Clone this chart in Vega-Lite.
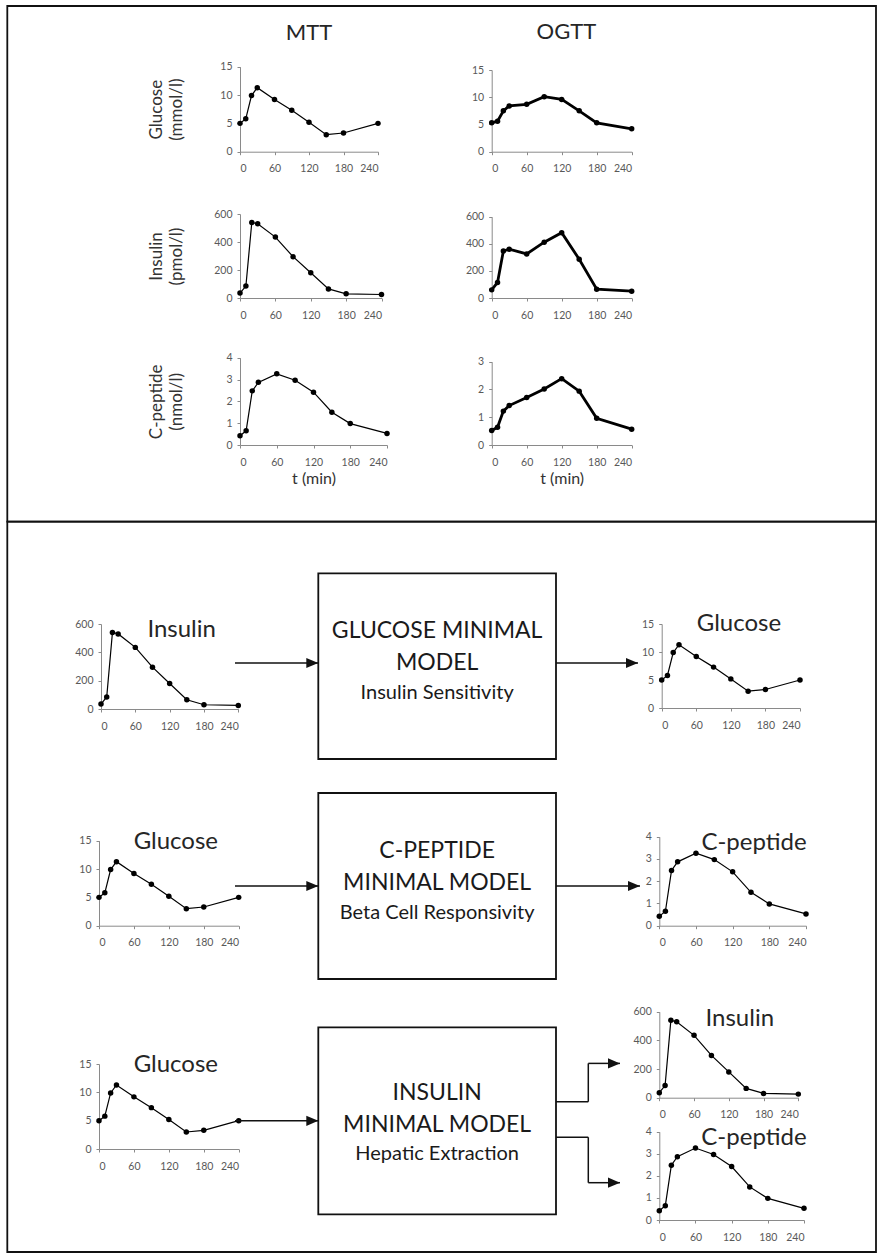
{
"$schema": "https://vega.github.io/schema/vega-lite/v6.json",
"width": 881, "height": 1255, "padding": 0, "autosize": {"type": "none"},
"background": "white",
"config": {
  "font": "Lato",
  "view": {"stroke": null},
  "axis": {"grid": false, "labelOverlap": false, "labelBound": false, "domainColor": "#8a8a8a", "tickColor": "#8a8a8a", "tickSize": 3, "labelFont": "Lato", "labelFontSize": 10.5, "labelColor": "#595959", "titleFont": "Lato", "titleFontWeight": "normal", "titleColor": "#333333", "titleFontSize": 17, "titleLineHeight": 20},
  "axisX": {"labelPadding": 9},
  "axisY": {"labelPadding": 5},
  "text": {"font": "Lato"}
},
"datasets": {
  "mtt_glu": [{"t":0,"v":5.0},{"t":10,"v":5.8},{"t":20,"v":9.9},{"t":30,"v":11.3},{"t":60,"v":9.2},{"t":90,"v":7.3},{"t":120,"v":5.2},{"t":150,"v":3.0},{"t":180,"v":3.3},{"t":240,"v":5.0}],
  "ogtt_glu": [{"t":0,"v":5.3},{"t":10,"v":5.6},{"t":20,"v":7.5},{"t":30,"v":8.4},{"t":60,"v":8.7},{"t":90,"v":10.1},{"t":120,"v":9.6},{"t":150,"v":7.5},{"t":180,"v":5.3},{"t":240,"v":4.2}],
  "mtt_ins": [{"t":0,"v":35},{"t":10,"v":85},{"t":20,"v":540},{"t":30,"v":530},{"t":60,"v":435},{"t":90,"v":295},{"t":120,"v":180},{"t":150,"v":65},{"t":180,"v":30},{"t":240,"v":25}],
  "ogtt_ins": [{"t":0,"v":60},{"t":10,"v":115},{"t":20,"v":347},{"t":30,"v":360},{"t":60,"v":325},{"t":90,"v":412},{"t":120,"v":482},{"t":150,"v":286},{"t":180,"v":65},{"t":240,"v":50}],
  "mtt_cp": [{"t":0,"v":0.42},{"t":10,"v":0.65},{"t":20,"v":2.48},{"t":30,"v":2.87},{"t":60,"v":3.26},{"t":90,"v":2.97},{"t":120,"v":2.42},{"t":150,"v":1.5},{"t":180,"v":0.98},{"t":240,"v":0.53}],
  "ogtt_cp": [{"t":0,"v":0.52},{"t":10,"v":0.64},{"t":20,"v":1.22},{"t":30,"v":1.42},{"t":60,"v":1.71},{"t":90,"v":2.02},{"t":120,"v":2.39},{"t":150,"v":1.94},{"t":180,"v":0.96},{"t":240,"v":0.57}]
},
"resolve": {"scale": {"x": "independent", "y": "independent"}, "axis": {"x": "independent", "y": "independent"}},
"layer": [
  {"data": {"values": [{}]},
   "layer": [
     {"mark": {"type": "rect", "filled": false, "color": "#111111", "strokeWidth": 1.8},
      "encoding": {"x": {"datum": 0, "type": "quantitative", "scale": {"domain": [0,1], "range": [7.3,876], "nice": false, "zero": false}, "axis": null}, "x2": {"datum": 1},
                   "y": {"datum": 0, "type": "quantitative", "scale": {"domain": [0,1,2], "range": [6,521.7,1252], "nice": false, "zero": false}, "axis": null}, "y2": {"datum": 1}}},
     {"mark": {"type": "rect", "filled": false, "color": "#111111", "strokeWidth": 1.8},
      "encoding": {"x": {"datum": 0, "type": "quantitative", "scale": {"domain": [0,1], "range": [7.3,876], "nice": false, "zero": false}, "axis": null}, "x2": {"datum": 1},
                   "y": {"datum": 1, "type": "quantitative", "scale": {"domain": [0,1,2], "range": [6,521.7,1252], "nice": false, "zero": false}, "axis": null}, "y2": {"datum": 2}}}
   ]},

  {"data": {"name": "mtt_glu"},
   "encoding": {
     "x": {"field": "t", "type": "quantitative", "scale": {"domain": [0,240], "range": [240,378], "nice": false}, "axis": {"orient": "bottom", "offset": -1103.3, "values": [0,60,120,180,240], "title": null, "labelOverlap": false}},
     "y": {"field": "v", "type": "quantitative", "scale": {"domain": [0,15], "range": [151.7,66.7], "nice": false}, "axis": {"orient": "left", "offset": -240, "values": [0,5,10,15], "title": ["Glucose","(mmol/l)"], "minExtent": 30, "maxExtent": 30, "titlePadding": 24.7}}},
   "layer": [
     {"mark": {"type": "line", "color": "black", "strokeWidth": 1.2}},
     {"mark": {"type": "point", "filled": true, "color": "black", "opacity": 1, "size": 30}}
   ]},
  {"data": {"values": [{"label": "MTT"}]}, "mark": {"type": "text", "fontSize": 22, "color": "#262626"},
   "encoding": {"text": {"field": "label"},
     "x": {"datum": 120, "type": "quantitative", "scale": {"domain": [0,240], "range": [240,378], "nice": false}, "axis": null},
     "y": {"datum": 20.95, "type": "quantitative", "scale": {"domain": [0,15], "range": [151.7,66.7], "nice": false}, "axis": null}}},

  {"data": {"name": "ogtt_glu"},
   "encoding": {
     "x": {"field": "t", "type": "quantitative", "scale": {"domain": [0,240], "range": [491.7,631.7], "nice": false}, "axis": {"orient": "bottom", "offset": -1103.3, "values": [0,60,120,180,240], "title": null, "labelOverlap": false}},
     "y": {"field": "v", "type": "quantitative", "scale": {"domain": [0,15], "range": [151.7,70], "nice": false}, "axis": {"orient": "left", "offset": -491.7, "values": [0,5,10,15], "title": null}}},
   "layer": [
     {"mark": {"type": "line", "color": "black", "strokeWidth": 2.8}},
     {"mark": {"type": "point", "filled": true, "color": "black", "opacity": 1, "size": 30}}
   ]},
  {"data": {"values": [{"label": "OGTT"}]}, "mark": {"type": "text", "fontSize": 22, "color": "#262626"},
   "encoding": {"text": {"field": "label"},
     "x": {"datum": 128, "type": "quantitative", "scale": {"domain": [0,240], "range": [491.7,631.7], "nice": false}, "axis": null},
     "y": {"datum": 22.0, "type": "quantitative", "scale": {"domain": [0,15], "range": [151.7,70], "nice": false}, "axis": null}}},

  {"data": {"name": "mtt_ins"},
   "encoding": {
     "x": {"field": "t", "type": "quantitative", "scale": {"domain": [0,240], "range": [240,381.5], "nice": false}, "axis": {"orient": "bottom", "offset": -957, "values": [0,60,120,180,240], "title": null, "labelOverlap": false}},
     "y": {"field": "v", "type": "quantitative", "scale": {"domain": [0,600], "range": [298,214], "nice": false}, "axis": {"orient": "left", "offset": -240, "values": [0,200,400,600], "title": ["Insulin","(pmol/l)"], "minExtent": 30, "maxExtent": 30, "titlePadding": 24.7}}},
   "layer": [
     {"mark": {"type": "line", "color": "black", "strokeWidth": 1.2}},
     {"mark": {"type": "point", "filled": true, "color": "black", "opacity": 1, "size": 30}}
   ]},

  {"data": {"name": "ogtt_ins"},
   "encoding": {
     "x": {"field": "t", "type": "quantitative", "scale": {"domain": [0,240], "range": [491.7,631.7], "nice": false}, "axis": {"orient": "bottom", "offset": -957, "values": [0,60,120,180,240], "title": null, "labelOverlap": false}},
     "y": {"field": "v", "type": "quantitative", "scale": {"domain": [0,600], "range": [298,216.7], "nice": false}, "axis": {"orient": "left", "offset": -491.7, "values": [0,200,400,600], "title": null}}},
   "layer": [
     {"mark": {"type": "line", "color": "black", "strokeWidth": 2.8}},
     {"mark": {"type": "point", "filled": true, "color": "black", "opacity": 1, "size": 30}}
   ]},

  {"data": {"name": "mtt_cp"},
   "encoding": {
     "x": {"field": "t", "type": "quantitative", "scale": {"domain": [0,240], "range": [240,387], "nice": false}, "axis": {"orient": "bottom", "offset": -810, "values": [0,60,120,180,240], "title": "t (min)", "titleFontSize": 16, "minExtent": 15, "maxExtent": 15, "titlePadding": 10, "labelOverlap": false}},
     "y": {"field": "v", "type": "quantitative", "scale": {"domain": [0,4], "range": [445,357.7], "nice": false}, "axis": {"orient": "left", "offset": -240, "values": [0,1,2,3,4], "title": ["C-peptide","(nmol/l)"], "minExtent": 30, "maxExtent": 30, "titlePadding": 24.7}}},
   "layer": [
     {"mark": {"type": "line", "color": "black", "strokeWidth": 1.2}},
     {"mark": {"type": "point", "filled": true, "color": "black", "opacity": 1, "size": 30}}
   ]},

  {"data": {"name": "ogtt_cp"},
   "encoding": {
     "x": {"field": "t", "type": "quantitative", "scale": {"domain": [0,240], "range": [491.7,631.7], "nice": false}, "axis": {"orient": "bottom", "offset": -810, "values": [0,60,120,180,240], "title": "t (min)", "titleFontSize": 16, "minExtent": 15, "maxExtent": 15, "titlePadding": 10, "labelOverlap": false}},
     "y": {"field": "v", "type": "quantitative", "scale": {"domain": [0,3], "range": [445,361.7], "nice": false}, "axis": {"orient": "left", "offset": -491.7, "values": [0,1,2,3], "title": null}}},
   "layer": [
     {"mark": {"type": "line", "color": "black", "strokeWidth": 2.8}},
     {"mark": {"type": "point", "filled": true, "color": "black", "opacity": 1, "size": 30}}
   ]},

  {"data": {"name": "mtt_ins"},
   "encoding": {
     "x": {"field": "t", "type": "quantitative", "scale": {"domain": [0,240], "range": [101,238.3], "nice": false}, "axis": {"orient": "bottom", "offset": -546, "values": [0,60,120,180,240], "title": null, "labelOverlap": false}},
     "y": {"field": "v", "type": "quantitative", "scale": {"domain": [0,600], "range": [709,624], "nice": false}, "axis": {"orient": "left", "offset": -101, "values": [0,200,400,600], "title": null}}},
   "layer": [
     {"mark": {"type": "line", "color": "black", "strokeWidth": 1.2}},
     {"mark": {"type": "point", "filled": true, "color": "black", "opacity": 1, "size": 30}}
   ]},
  {"data": {"values": [{"label": "Insulin"}]}, "mark": {"type": "text", "fontSize": 24, "color": "#262626"},
   "encoding": {"text": {"field": "label"},
     "x": {"datum": 141, "type": "quantitative", "scale": {"domain": [0,240], "range": [101,238.3], "nice": false}, "axis": null},
     "y": {"datum": 557, "type": "quantitative", "scale": {"domain": [0,600], "range": [709,624], "nice": false}, "axis": null}}},

  {"data": {"name": "mtt_glu"},
   "encoding": {
     "x": {"field": "t", "type": "quantitative", "scale": {"domain": [0,240], "range": [661.7,800], "nice": false}, "axis": {"orient": "bottom", "offset": -547, "values": [0,60,120,180,240], "title": null, "labelOverlap": false}},
     "y": {"field": "v", "type": "quantitative", "scale": {"domain": [0,15], "range": [708,624], "nice": false}, "axis": {"orient": "left", "offset": -661.7, "values": [0,5,10,15], "title": null}}},
   "layer": [
     {"mark": {"type": "line", "color": "black", "strokeWidth": 1.2}},
     {"mark": {"type": "point", "filled": true, "color": "black", "opacity": 1, "size": 30}}
   ]},
  {"data": {"values": [{"label": "Glucose"}]}, "mark": {"type": "text", "fontSize": 24, "color": "#262626"},
   "encoding": {"text": {"field": "label"},
     "x": {"datum": 134, "type": "quantitative", "scale": {"domain": [0,240], "range": [661.7,800], "nice": false}, "axis": null},
     "y": {"datum": 15, "type": "quantitative", "scale": {"domain": [0,15], "range": [708,624], "nice": false}, "axis": null}}},

  {"data": {"name": "mtt_glu"},
   "encoding": {
     "x": {"field": "t", "type": "quantitative", "scale": {"domain": [0,240], "range": [99,238.7], "nice": false}, "axis": {"orient": "bottom", "offset": -329.3, "values": [0,60,120,180,240], "title": null, "labelOverlap": false}},
     "y": {"field": "v", "type": "quantitative", "scale": {"domain": [0,15], "range": [925.7,840.7], "nice": false}, "axis": {"orient": "left", "offset": -99, "values": [0,5,10,15], "title": null}}},
   "layer": [
     {"mark": {"type": "line", "color": "black", "strokeWidth": 1.2}},
     {"mark": {"type": "point", "filled": true, "color": "black", "opacity": 1, "size": 30}}
   ]},
  {"data": {"values": [{"label": "Glucose"}]}, "mark": {"type": "text", "fontSize": 24, "color": "#262626"},
   "encoding": {"text": {"field": "label"},
     "x": {"datum": 132, "type": "quantitative", "scale": {"domain": [0,240], "range": [99,238.7], "nice": false}, "axis": null},
     "y": {"datum": 14.8, "type": "quantitative", "scale": {"domain": [0,15], "range": [925.7,840.7], "nice": false}, "axis": null}}},

  {"data": {"name": "mtt_cp"},
   "encoding": {
     "x": {"field": "t", "type": "quantitative", "scale": {"domain": [0,240], "range": [659.3,806], "nice": false}, "axis": {"orient": "bottom", "offset": -329.3, "values": [0,60,120,180,240], "title": null, "labelOverlap": false}},
     "y": {"field": "v", "type": "quantitative", "scale": {"domain": [0,4], "range": [925.7,836.7], "nice": false}, "axis": {"orient": "left", "offset": -659.3, "values": [0,1,2,3,4], "title": null}}},
   "layer": [
     {"mark": {"type": "line", "color": "black", "strokeWidth": 1.2}},
     {"mark": {"type": "point", "filled": true, "color": "black", "opacity": 1, "size": 30}}
   ]},
  {"data": {"values": [{"label": "C-peptide"}]}, "mark": {"type": "text", "fontSize": 24, "color": "#262626"},
   "encoding": {"text": {"field": "label"},
     "x": {"datum": 155, "type": "quantitative", "scale": {"domain": [0,240], "range": [659.3,806], "nice": false}, "axis": null},
     "y": {"datum": 3.73, "type": "quantitative", "scale": {"domain": [0,4], "range": [925.7,836.7], "nice": false}, "axis": null}}},

  {"data": {"name": "mtt_glu"},
   "encoding": {
     "x": {"field": "t", "type": "quantitative", "scale": {"domain": [0,240], "range": [99,238.7], "nice": false}, "axis": {"orient": "bottom", "offset": -106, "values": [0,60,120,180,240], "title": null, "labelOverlap": false}},
     "y": {"field": "v", "type": "quantitative", "scale": {"domain": [0,15], "range": [1149,1064], "nice": false}, "axis": {"orient": "left", "offset": -99, "values": [0,5,10,15], "title": null}}},
   "layer": [
     {"mark": {"type": "line", "color": "black", "strokeWidth": 1.2}},
     {"mark": {"type": "point", "filled": true, "color": "black", "opacity": 1, "size": 30}}
   ]},
  {"data": {"values": [{"label": "Glucose"}]}, "mark": {"type": "text", "fontSize": 24, "color": "#262626"},
   "encoding": {"text": {"field": "label"},
     "x": {"datum": 132, "type": "quantitative", "scale": {"domain": [0,240], "range": [99,238.7], "nice": false}, "axis": null},
     "y": {"datum": 14.8, "type": "quantitative", "scale": {"domain": [0,15], "range": [1149,1064], "nice": false}, "axis": null}}},

  {"data": {"name": "mtt_ins"},
   "encoding": {
     "x": {"field": "t", "type": "quantitative", "scale": {"domain": [0,240], "range": [659.3,798.3], "nice": false}, "axis": {"orient": "bottom", "offset": -157.3, "values": [0,60,120,180,240], "title": null, "labelOverlap": false}},
     "y": {"field": "v", "type": "quantitative", "scale": {"domain": [0,600], "range": [1097.7,1011.7], "nice": false}, "axis": {"orient": "left", "offset": -659.3, "values": [0,200,400,600], "title": null}}},
   "layer": [
     {"mark": {"type": "line", "color": "black", "strokeWidth": 1.2}},
     {"mark": {"type": "point", "filled": true, "color": "black", "opacity": 1, "size": 30}}
   ]},
  {"data": {"values": [{"label": "Insulin"}]}, "mark": {"type": "text", "fontSize": 24, "color": "#262626"},
   "encoding": {"text": {"field": "label"},
     "x": {"datum": 139, "type": "quantitative", "scale": {"domain": [0,240], "range": [659.3,798.3], "nice": false}, "axis": null},
     "y": {"datum": 547, "type": "quantitative", "scale": {"domain": [0,600], "range": [1097.7,1011.7], "nice": false}, "axis": null}}},

  {"data": {"name": "mtt_cp"},
   "encoding": {
     "x": {"field": "t", "type": "quantitative", "scale": {"domain": [0,240], "range": [659.3,804], "nice": false}, "axis": {"orient": "bottom", "offset": -35, "values": [0,60,120,180,240], "title": null, "labelOverlap": false}},
     "y": {"field": "v", "type": "quantitative", "scale": {"domain": [0,4], "range": [1220,1131.7], "nice": false}, "axis": {"orient": "left", "offset": -659.3, "values": [0,1,2,3,4], "title": null}}},
   "layer": [
     {"mark": {"type": "line", "color": "black", "strokeWidth": 1.2}},
     {"mark": {"type": "point", "filled": true, "color": "black", "opacity": 1, "size": 30}}
   ]},
  {"data": {"values": [{"label": "C-peptide"}]}, "mark": {"type": "text", "fontSize": 24, "color": "#262626"},
   "encoding": {"text": {"field": "label"},
     "x": {"datum": 157, "type": "quantitative", "scale": {"domain": [0,240], "range": [659.3,804], "nice": false}, "axis": null},
     "y": {"datum": 3.71, "type": "quantitative", "scale": {"domain": [0,4], "range": [1220,1131.7], "nice": false}, "axis": null}}},

  {"data": {"values": [{}]},
   "layer": [
     {"mark": {"type": "rect", "filled": false, "color": "#111111", "strokeWidth": 1.8},
      "encoding": {"x": {"datum": 1, "type": "quantitative", "scale": {"domain": [0,1,2,3], "range": [235,318.3,556,638], "nice": false, "zero": false}, "axis": null}, "x2": {"datum": 2},
                   "y": {"datum": 0, "type": "quantitative", "scale": {"domain": [0,1], "range": [573.3,759], "nice": false, "zero": false}, "axis": null}, "y2": {"datum": 1}}},
     {"mark": {"type": "rule", "color": "#111111", "strokeWidth": 1.5},
      "encoding": {"x": {"datum": 0, "type": "quantitative", "scale": {"domain": [0,1,2,3], "range": [235,318.3,556,638], "nice": false, "zero": false}, "axis": null}, "x2": {"datum": 1},
                   "y": {"datum": 0.483, "type": "quantitative", "scale": {"domain": [0,1], "range": [573.3,759], "nice": false, "zero": false}, "axis": null}}},
     {"mark": {"type": "rule", "color": "#111111", "strokeWidth": 1.5},
      "encoding": {"x": {"datum": 2, "type": "quantitative", "scale": {"domain": [0,1,2,3], "range": [235,318.3,556,638], "nice": false, "zero": false}, "axis": null}, "x2": {"datum": 3},
                   "y": {"datum": 0.483, "type": "quantitative", "scale": {"domain": [0,1], "range": [573.3,759], "nice": false, "zero": false}, "axis": null}}},
     {"mark": {"type": "point", "shape": "M-2,-0.85L0,0L-2,0.85Z", "size": 144, "filled": true, "color": "#111111", "opacity": 1},
      "encoding": {"x": {"datum": 1, "type": "quantitative", "scale": {"domain": [0,1,2,3], "range": [235,318.3,556,638], "nice": false, "zero": false}, "axis": null},
                   "y": {"datum": 0.483, "type": "quantitative", "scale": {"domain": [0,1], "range": [573.3,759], "nice": false, "zero": false}, "axis": null}}},
     {"mark": {"type": "point", "shape": "M-2,-0.85L0,0L-2,0.85Z", "size": 144, "filled": true, "color": "#111111", "opacity": 1},
      "encoding": {"x": {"datum": 3, "type": "quantitative", "scale": {"domain": [0,1,2,3], "range": [235,318.3,556,638], "nice": false, "zero": false}, "axis": null},
                   "y": {"datum": 0.483, "type": "quantitative", "scale": {"domain": [0,1], "range": [573.3,759], "nice": false, "zero": false}, "axis": null}}},
     {"mark": {"type": "text", "text": "GLUCOSE MINIMAL", "fontSize": 23, "color": "#1a1a1a"},
      "encoding": {"x": {"datum": 1.5, "type": "quantitative", "scale": {"domain": [0,1,2,3], "range": [235,318.3,556,638], "nice": false, "zero": false}, "axis": null},
                   "y": {"datum": 0.309, "type": "quantitative", "scale": {"domain": [0,1], "range": [573.3,759], "nice": false, "zero": false}, "axis": null}}},
     {"mark": {"type": "text", "text": "MODEL", "fontSize": 23, "color": "#1a1a1a"},
      "encoding": {"x": {"datum": 1.5, "type": "quantitative", "scale": {"domain": [0,1,2,3], "range": [235,318.3,556,638], "nice": false, "zero": false}, "axis": null},
                   "y": {"datum": 0.483, "type": "quantitative", "scale": {"domain": [0,1], "range": [573.3,759], "nice": false, "zero": false}, "axis": null}}},
     {"mark": {"type": "text", "text": "Insulin Sensitivity", "fontSize": 20, "color": "#1a1a1a"},
      "encoding": {"x": {"datum": 1.5, "type": "quantitative", "scale": {"domain": [0,1,2,3], "range": [235,318.3,556,638], "nice": false, "zero": false}, "axis": null},
                   "y": {"datum": 0.645, "type": "quantitative", "scale": {"domain": [0,1], "range": [573.3,759], "nice": false, "zero": false}, "axis": null}}}
   ]},

  {"data": {"values": [{}]},
   "layer": [
     {"mark": {"type": "rect", "filled": false, "color": "#111111", "strokeWidth": 1.8},
      "encoding": {"x": {"datum": 1, "type": "quantitative", "scale": {"domain": [0,1,2,3], "range": [235,318.3,556,640], "nice": false, "zero": false}, "axis": null}, "x2": {"datum": 2},
                   "y": {"datum": 0, "type": "quantitative", "scale": {"domain": [0,1], "range": [793,979], "nice": false, "zero": false}, "axis": null}, "y2": {"datum": 1}}},
     {"mark": {"type": "rule", "color": "#111111", "strokeWidth": 1.5},
      "encoding": {"x": {"datum": 0, "type": "quantitative", "scale": {"domain": [0,1,2,3], "range": [235,318.3,556,640], "nice": false, "zero": false}, "axis": null}, "x2": {"datum": 1},
                   "y": {"datum": 0.5, "type": "quantitative", "scale": {"domain": [0,1], "range": [793,979], "nice": false, "zero": false}, "axis": null}}},
     {"mark": {"type": "rule", "color": "#111111", "strokeWidth": 1.5},
      "encoding": {"x": {"datum": 2, "type": "quantitative", "scale": {"domain": [0,1,2,3], "range": [235,318.3,556,640], "nice": false, "zero": false}, "axis": null}, "x2": {"datum": 3},
                   "y": {"datum": 0.5, "type": "quantitative", "scale": {"domain": [0,1], "range": [793,979], "nice": false, "zero": false}, "axis": null}}},
     {"mark": {"type": "point", "shape": "M-2,-0.85L0,0L-2,0.85Z", "size": 144, "filled": true, "color": "#111111", "opacity": 1},
      "encoding": {"x": {"datum": 1, "type": "quantitative", "scale": {"domain": [0,1,2,3], "range": [235,318.3,556,640], "nice": false, "zero": false}, "axis": null},
                   "y": {"datum": 0.5, "type": "quantitative", "scale": {"domain": [0,1], "range": [793,979], "nice": false, "zero": false}, "axis": null}}},
     {"mark": {"type": "point", "shape": "M-2,-0.85L0,0L-2,0.85Z", "size": 144, "filled": true, "color": "#111111", "opacity": 1},
      "encoding": {"x": {"datum": 3, "type": "quantitative", "scale": {"domain": [0,1,2,3], "range": [235,318.3,556,640], "nice": false, "zero": false}, "axis": null},
                   "y": {"datum": 0.5, "type": "quantitative", "scale": {"domain": [0,1], "range": [793,979], "nice": false, "zero": false}, "axis": null}}},
     {"mark": {"type": "text", "text": "C-PEPTIDE", "fontSize": 23, "color": "#1a1a1a"},
      "encoding": {"x": {"datum": 1.5, "type": "quantitative", "scale": {"domain": [0,1,2,3], "range": [235,318.3,556,640], "nice": false, "zero": false}, "axis": null},
                   "y": {"datum": 0.312, "type": "quantitative", "scale": {"domain": [0,1], "range": [793,979], "nice": false, "zero": false}, "axis": null}}},
     {"mark": {"type": "text", "text": "MINIMAL MODEL", "fontSize": 23, "color": "#1a1a1a"},
      "encoding": {"x": {"datum": 1.5, "type": "quantitative", "scale": {"domain": [0,1,2,3], "range": [235,318.3,556,640], "nice": false, "zero": false}, "axis": null},
                   "y": {"datum": 0.484, "type": "quantitative", "scale": {"domain": [0,1], "range": [793,979], "nice": false, "zero": false}, "axis": null}}},
     {"mark": {"type": "text", "text": "Beta Cell Responsivity", "fontSize": 20, "color": "#1a1a1a"},
      "encoding": {"x": {"datum": 1.5, "type": "quantitative", "scale": {"domain": [0,1,2,3], "range": [235,318.3,556,640], "nice": false, "zero": false}, "axis": null},
                   "y": {"datum": 0.645, "type": "quantitative", "scale": {"domain": [0,1], "range": [793,979], "nice": false, "zero": false}, "axis": null}}}
   ]},

  {"data": {"values": [{}]},
   "layer": [
     {"mark": {"type": "rect", "filled": false, "color": "#111111", "strokeWidth": 1.8},
      "encoding": {"x": {"datum": 1, "type": "quantitative", "scale": {"domain": [0,1,2,3,4], "range": [235,318.3,556,588.3,620], "nice": false, "zero": false}, "axis": null}, "x2": {"datum": 2},
                   "y": {"datum": 0, "type": "quantitative", "scale": {"domain": [0,1], "range": [1027.3,1214.3], "nice": false, "zero": false}, "axis": null}, "y2": {"datum": 1}}},
     {"mark": {"type": "rule", "color": "#111111", "strokeWidth": 1.5},
      "encoding": {"x": {"datum": 0, "type": "quantitative", "scale": {"domain": [0,1,2,3,4], "range": [235,318.3,556,588.3,620], "nice": false, "zero": false}, "axis": null}, "x2": {"datum": 1},
                   "y": {"datum": 0.5, "type": "quantitative", "scale": {"domain": [0,1], "range": [1027.3,1214.3], "nice": false, "zero": false}, "axis": null}}},
     {"mark": {"type": "point", "shape": "M-2,-0.85L0,0L-2,0.85Z", "size": 144, "filled": true, "color": "#111111", "opacity": 1},
      "encoding": {"x": {"datum": 1, "type": "quantitative", "scale": {"domain": [0,1,2,3,4], "range": [235,318.3,556,588.3,620], "nice": false, "zero": false}, "axis": null},
                   "y": {"datum": 0.5, "type": "quantitative", "scale": {"domain": [0,1], "range": [1027.3,1214.3], "nice": false, "zero": false}, "axis": null}}},
     {"mark": {"type": "rule", "color": "#111111", "strokeWidth": 1.5},
      "encoding": {"x": {"datum": 2, "type": "quantitative", "scale": {"domain": [0,1,2,3,4], "range": [235,318.3,556,588.3,620], "nice": false, "zero": false}, "axis": null}, "x2": {"datum": 3},
                   "y": {"datum": 0.398, "type": "quantitative", "scale": {"domain": [0,1], "range": [1027.3,1214.3], "nice": false, "zero": false}, "axis": null}}},
     {"mark": {"type": "rule", "color": "#111111", "strokeWidth": 1.5},
      "encoding": {"x": {"datum": 3, "type": "quantitative", "scale": {"domain": [0,1,2,3,4], "range": [235,318.3,556,588.3,620], "nice": false, "zero": false}, "axis": null},
                   "y": {"datum": 0.398, "type": "quantitative", "scale": {"domain": [0,1], "range": [1027.3,1214.3], "nice": false, "zero": false}, "axis": null}, "y2": {"datum": 0.193}}},
     {"mark": {"type": "rule", "color": "#111111", "strokeWidth": 1.5},
      "encoding": {"x": {"datum": 3, "type": "quantitative", "scale": {"domain": [0,1,2,3,4], "range": [235,318.3,556,588.3,620], "nice": false, "zero": false}, "axis": null}, "x2": {"datum": 4},
                   "y": {"datum": 0.193, "type": "quantitative", "scale": {"domain": [0,1], "range": [1027.3,1214.3], "nice": false, "zero": false}, "axis": null}}},
     {"mark": {"type": "point", "shape": "M-2,-0.85L0,0L-2,0.85Z", "size": 144, "filled": true, "color": "#111111", "opacity": 1},
      "encoding": {"x": {"datum": 4, "type": "quantitative", "scale": {"domain": [0,1,2,3,4], "range": [235,318.3,556,588.3,620], "nice": false, "zero": false}, "axis": null},
                   "y": {"datum": 0.193, "type": "quantitative", "scale": {"domain": [0,1], "range": [1027.3,1214.3], "nice": false, "zero": false}, "axis": null}}},
     {"mark": {"type": "rule", "color": "#111111", "strokeWidth": 1.5},
      "encoding": {"x": {"datum": 2, "type": "quantitative", "scale": {"domain": [0,1,2,3,4], "range": [235,318.3,556,588.3,620], "nice": false, "zero": false}, "axis": null}, "x2": {"datum": 3},
                   "y": {"datum": 0.588, "type": "quantitative", "scale": {"domain": [0,1], "range": [1027.3,1214.3], "nice": false, "zero": false}, "axis": null}}},
     {"mark": {"type": "rule", "color": "#111111", "strokeWidth": 1.5},
      "encoding": {"x": {"datum": 3, "type": "quantitative", "scale": {"domain": [0,1,2,3,4], "range": [235,318.3,556,588.3,620], "nice": false, "zero": false}, "axis": null},
                   "y": {"datum": 0.588, "type": "quantitative", "scale": {"domain": [0,1], "range": [1027.3,1214.3], "nice": false, "zero": false}, "axis": null}, "y2": {"datum": 0.831}}},
     {"mark": {"type": "rule", "color": "#111111", "strokeWidth": 1.5},
      "encoding": {"x": {"datum": 3, "type": "quantitative", "scale": {"domain": [0,1,2,3,4], "range": [235,318.3,556,588.3,620], "nice": false, "zero": false}, "axis": null}, "x2": {"datum": 4},
                   "y": {"datum": 0.831, "type": "quantitative", "scale": {"domain": [0,1], "range": [1027.3,1214.3], "nice": false, "zero": false}, "axis": null}}},
     {"mark": {"type": "point", "shape": "M-2,-0.85L0,0L-2,0.85Z", "size": 144, "filled": true, "color": "#111111", "opacity": 1},
      "encoding": {"x": {"datum": 4, "type": "quantitative", "scale": {"domain": [0,1,2,3,4], "range": [235,318.3,556,588.3,620], "nice": false, "zero": false}, "axis": null},
                   "y": {"datum": 0.831, "type": "quantitative", "scale": {"domain": [0,1], "range": [1027.3,1214.3], "nice": false, "zero": false}, "axis": null}}},
     {"mark": {"type": "text", "text": "INSULIN", "fontSize": 23, "color": "#1a1a1a"},
      "encoding": {"x": {"datum": 1.5, "type": "quantitative", "scale": {"domain": [0,1,2,3,4], "range": [235,318.3,556,588.3,620], "nice": false, "zero": false}, "axis": null},
                   "y": {"datum": 0.351, "type": "quantitative", "scale": {"domain": [0,1], "range": [1027.3,1214.3], "nice": false, "zero": false}, "axis": null}}},
     {"mark": {"type": "text", "text": "MINIMAL MODEL", "fontSize": 23, "color": "#1a1a1a"},
      "encoding": {"x": {"datum": 1.5, "type": "quantitative", "scale": {"domain": [0,1,2,3,4], "range": [235,318.3,556,588.3,620], "nice": false, "zero": false}, "axis": null},
                   "y": {"datum": 0.523, "type": "quantitative", "scale": {"domain": [0,1], "range": [1027.3,1214.3], "nice": false, "zero": false}, "axis": null}}},
     {"mark": {"type": "text", "text": "Hepatic Extraction", "fontSize": 20, "color": "#1a1a1a"},
      "encoding": {"x": {"datum": 1.5, "type": "quantitative", "scale": {"domain": [0,1,2,3,4], "range": [235,318.3,556,588.3,620], "nice": false, "zero": false}, "axis": null},
                   "y": {"datum": 0.678, "type": "quantitative", "scale": {"domain": [0,1], "range": [1027.3,1214.3], "nice": false, "zero": false}, "axis": null}}}
   ]}
]
}
